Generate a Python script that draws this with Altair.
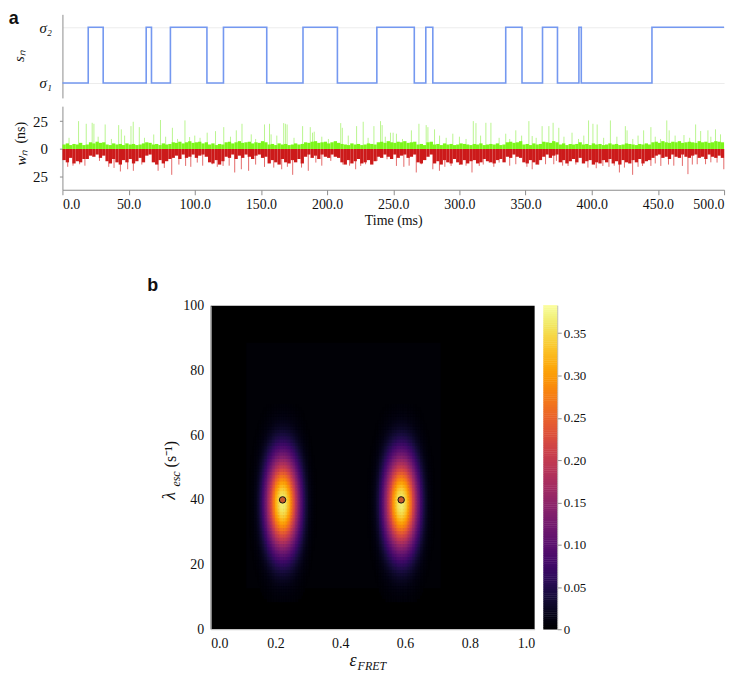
import altair as alt
import numpy as np
import pandas as pd

alt.data_transformers.disable_max_rows()

# ---------------- panel a: state trajectory ----------------
state_times = [0, 19.5, 30.8, 63.3, 67.3, 81.6, 109.2, 121.7, 154.4, 181.8, 207.8,
               237.6, 265.9, 274.6, 279.9, 335.0, 347.3, 362.8, 374.1, 390.3, 392.1,
               445.5, 500]
state_values = [1, 2, 1, 2, 1, 2, 1, 2, 1, 2, 1, 2, 1, 2, 1, 2, 1, 2, 1, 2, 1, 2, 2]

# ---------------- panel a: waiting-time trace (2.5 ms bins) ----------------
bin_ms = 2.5
green_band_segments = [
    [4, 5, 3.5, 4.5, 4, 5.5, 3.5, 4],
    [6, 5, 6.5, 5.5, 6],
    [4, 3.5, 5, 4, 4.5, 3.5, 5, 4, 4.5, 3.5, 4, 5],
    [6, 5.5],
    [4, 4.5, 3.5, 5, 4, 4.5],
    [6, 5.5, 6.5, 5, 6, 7, 5.5, 6, 6.5, 5, 6],
    [4, 5, 3.5, 4.5, 4],
    [6, 6.5, 5, 6, 7, 5.5, 6, 6.5, 5, 6, 5.5, 7, 6],
    [4, 4.5, 3.5, 5, 4, 4.5, 3.5, 4, 5, 4, 4.5],
    [6, 5.5, 6.5, 7, 5.5, 6, 6.5, 5, 6, 7, 5.5],
    [4.5, 4, 3.5, 5, 4, 4.5, 3.5, 4, 5, 4.5, 4],
    [6, 6.5, 5.5, 7, 6, 5.5, 6.5, 6, 7, 5.5, 6, 6.5],
    [4, 4.5, 3.5],
    [6, 6.5],
    [4, 4.5, 3.5, 5, 4, 4.5, 3.5, 4, 5, 4.5, 4, 3.5, 4.5, 4, 5, 3.5, 4, 4.5, 4, 5, 3.5, 4],
    [6, 6.5, 5.5, 6, 7],
    [4, 4.5, 3.5, 5, 4, 4.5],
    [6.5, 6, 5.5, 7, 6],
    [4, 5, 3.5, 4.5, 4, 4.5],
    [6],
    [4, 4.5, 3.5, 5, 4, 4.5, 3.5, 4, 5, 4, 4.5, 3.5, 4, 5, 4.5, 4, 3.5, 4.5, 4, 5, 4],
    [6, 6.5, 5.5, 7, 6, 5.5, 6.5, 6, 7, 5.5, 6, 6.5, 6, 5.5, 7, 6, 6.5, 5.5, 6, 7, 6.5, 6],
]
red_band_segments = [
    [10, 12, 8, 13, 11, 12, 9, 9],
    [6, 7, 5, 8, 6],
    [11, 13, 9, 12, 14, 10, 12, 9, 13, 11, 8, 12],
    [6, 5],
    [12, 14, 10, 13, 11, 9],
    [8, 6, 9, 5, 8, 7, 5, 8, 6, 5, 7],
    [12, 13, 10, 14, 11],
    [7, 8, 5, 9, 6, 8, 5, 7, 9, 6, 5, 8, 7],
    [13, 10, 12, 14, 9, 12, 13, 10, 12, 9, 13],
    [7, 5, 8, 6, 9, 5, 7, 8, 5, 7, 8],
    [12, 14, 10, 13, 11, 9, 13, 12, 10, 14, 11],
    [7, 8, 5, 7, 9, 5, 8, 6, 5, 8, 7, 5],
    [12, 13, 10],
    [7, 5],
    [13, 11, 14, 10, 12, 13, 9, 12, 14, 10, 13, 11, 10, 13, 12, 9, 11, 12, 13, 10, 9, 12],
    [7, 8, 5, 7, 8],
    [12, 13, 10, 12, 14, 10],
    [7, 5, 8, 6, 5],
    [12, 10, 13, 11, 9, 12],
    [8],
    [13, 11, 10, 14, 12, 13, 10, 12, 9, 13, 11, 14, 10, 12, 13, 10, 12, 9, 13, 11, 10],
    [8, 6, 5, 8, 7, 9, 5, 7, 8, 5, 7, 8, 6, 5, 8, 7, 9, 5, 7, 8, 6, 8],
]
green_band = [v for seg in green_band_segments for v in seg]
red_band = [v for seg in red_band_segments for v in seg]

green_spike_times = [12.2, 18.0, 22.5, 23.8, 32.3, 42.5, 44.5, 51.8, 53.5, 58.1, 74.1, 83.1,
                     92.6, 96.1, 109.4, 115.7, 121.9, 131.4, 135.7, 142.7, 152.7, 156.5,
                     157.7, 167.2, 168.5, 169.8, 181.5, 187.3, 189.0, 190.3, 210.3, 211.5,
                     222.3, 227.3, 235.4, 240.4, 241.6, 247.9, 249.9, 252.4, 263.7, 269.4,
                     274.9, 276.2, 281.2, 295.0, 310.5, 312.5, 320.0, 323.8, 335.0, 342.6,
                     352.5, 355.0, 362.5, 367.6, 370.8, 375.1, 385.1, 397.6, 400.9, 404.1,
                     414.1, 425.4, 426.7, 439.2, 444.7, 456.7, 458.5, 469.7, 478.5, 482.3,
                     487.8, 493.5, 497.3,
                     5, 27, 37, 47, 62, 69, 78, 87, 100, 104, 127, 146, 162, 175, 196, 201,
                     216, 231, 244, 257, 285, 290, 300, 305, 316, 330, 338, 347, 358, 379,
                     390, 394, 409, 419, 431, 435, 448, 452, 463, 474, 490]
green_spike_heights = [25, 22.6, 23.5, 22.6, 22, 21.4, 17.6, 20.5, 24.4, 19.6, 26, 19,
                       25.6, 10.7, 14.6, 16, 19.6, 16.7, 22.6, 13.1, 22.0, 22.6,
                       13.1, 23.2, 22.6, 22.0, 20.5, 19.6, 14.6, 15.5, 23.2, 19.0,
                       20.5, 24.4, 20.5, 25.0, 21.4, 14.6, 14.6, 13.7, 16.7, 22.6,
                       21.4, 19.6, 17.6, 13.7, 25.0, 23.2, 23.5, 23.5, 13.7, 16.7,
                       25.0, 11.6, 20.5, 20.5, 23.5, 19.0, 14.6, 25.6, 22.6, 22.0,
                       25.6, 20.5, 16.7, 16.7, 19.6, 25.6, 16.7, 12.5, 22.0, 16.1,
                       16.7, 17.6, 13.1,
                       10, 11, 9, 12, 10, 13, 11, 9, 12, 10, 11, 9, 12, 10, 11, 9,
                       12, 10, 11, 9, 12, 10, 11, 9, 12, 10, 9, 12, 10, 11,
                       9, 12, 10, 11, 9, 12, 11, 9, 12, 10, 11]
red_spike_times = [13.0, 28.0, 43.8, 49.3, 53.6, 72.3, 82.6, 93.1, 101.9, 113.2, 121.4,
                   130.2, 135.2, 140.7, 152.7, 159.7, 165.7, 174.0, 180.7, 185.8, 191.5,
                   202.8, 221.6, 225.4, 229.1, 232.9, 237.8, 245.3, 252.4, 267.4, 271.2,
                   279.9, 284.9, 293.7, 300.0, 309.5, 315.0, 322.5, 330.0, 342.6, 355.0,
                   365.1, 371.3, 373.3, 382.1, 397.1, 403.4, 408.4, 420.9, 424.7, 430.9,
                   438.4, 444.7, 452.2, 468.5, 472.7, 479.7, 486.0, 494.7, 499.8,
                   4, 8, 17, 35, 39, 60, 77, 88, 97, 106, 117, 126, 146, 170, 196, 212,
                   217, 258, 262, 289, 305, 318, 326, 338, 351, 360, 378, 388, 413, 417,
                   435, 448, 458, 462, 476, 490]
red_spike_heights = [13.7, 10.7, 20.2, 18.2, 19.6, 19.6, 23.2, 15.2, 12.2, 13.7, 15.2,
                     21.1, 18.2, 19.6, 16.1, 16.7, 18.2, 23.2, 16.7, 19.6, 12.2,
                     10.7, 18.2, 15.2, 13.7, 12.2, 10.7, 9.2, 15.2, 21.1, 13.7,
                     18.2, 19.6, 15.2, 14.3, 21.1, 15.2, 12.2, 12.2, 13.7, 18.2,
                     13.7, 13.7, 10.7, 15.2, 16.7, 17.3, 15.2, 21.1, 16.7, 23.2,
                     15.2, 15.2, 15.2, 15.2, 22.6, 13.7, 13.7, 12.2, 18.2,
                     16, 15, 15, 16, 17, 14, 17, 14, 16, 15, 16, 15, 14, 16, 15, 14,
                     15, 16, 15, 16, 15, 14, 16, 15, 16, 14, 15, 14, 16, 15,
                     16, 13, 14, 15, 14, 12]
time_ticks = [0, 50, 100, 150, 200, 250, 300, 350, 400, 450, 500]

# ---------------- panel b: posterior heat map ----------------
eff_ticks = [0.0, 0.2, 0.4, 0.6, 0.8, 1.0]
rate_ticks = [0, 20, 40, 60, 80, 100]
blob_eff = [0.222, 0.588]
blob_rate = [39, 39]
blob_peak = 0.365
prof_eff_offsets = [0.0, 0.005, 0.01, 0.015, 0.02, 0.025, 0.03, 0.035, 0.04, 0.045, 0.05,
                    0.055, 0.06, 0.065, 0.07, 0.075, 0.08, 0.085, 0.09, 0.095, 0.1, 0.105, 0.11]
prof_eff = [1.0, 0.99, 0.96, 0.91, 0.85, 0.77, 0.69, 0.60, 0.52, 0.43, 0.35,
            0.28, 0.21, 0.16, 0.11, 0.08, 0.05, 0.035, 0.02, 0.012, 0.007, 0.003, 0.001]
prof_rate_offsets = list(range(0, 31))
prof_rate = [1.0, 0.995, 0.98, 0.956, 0.923, 0.882, 0.835, 0.783, 0.726, 0.667, 0.607,
             0.546, 0.487, 0.430, 0.375, 0.325, 0.278, 0.236, 0.198, 0.164, 0.135,
             0.110, 0.089, 0.071, 0.056, 0.044, 0.034, 0.026, 0.020, 0.015, 0.011]
grid_eff = [0.11, 0.71]
grid_rate = [12.7, 88.6]
mode_eff = [0.222, 0.588]
mode_rate = [40, 40]
cbar_max = 0.383
cbar_ticks = [0, 0.05, 0.10, 0.15, 0.20, 0.25, 0.30, 0.35]

# ---------------- tables ----------------
df_state = pd.DataFrame({"t": state_times, "s": state_values})
n_bins = len(green_band)
t0 = [i * bin_ms for i in range(n_bins)]
df_band = pd.DataFrame({"t0": t0, "t1": [t + bin_ms for t in t0], "zero": 0.0,
                        "g": green_band, "r": [-v for v in red_band]})
df_gsp = pd.DataFrame({"t": green_spike_times, "zero": 0.0, "h": green_spike_heights})
df_rsp = pd.DataFrame({"t": red_spike_times, "zero": 0.0, "h": [-v for v in red_spike_heights]})

cells = []
for cx, cy in zip(blob_eff, blob_rate):
    for dx, px in zip(prof_eff_offsets, prof_eff):
        for sx in ([1] if dx == 0 else [1, -1]):
            for dy, py in zip(prof_rate_offsets, prof_rate):
                for sy in ([1] if dy == 0 else [1, -1]):
                    v = blob_peak * px * py
                    if v < 0.0015:
                        continue
                    x = cx + sx * dx
                    y = cy + sy * dy
                    cells.append({"x0": x - 0.0034, "x1": x + 0.0034,
                                  "y0": y - 0.65, "y1": y + 0.65, "v": v})
df_cells = pd.DataFrame(cells).sort_values("v")
df_bg = pd.DataFrame({"x0": [0.0], "x1": [1.0], "y0": [0.0], "y1": [100.0]})
df_region = pd.DataFrame({"x0": [grid_eff[0]], "x1": [grid_eff[1]],
                          "y0": [grid_rate[0]], "y1": [grid_rate[1]]})
df_modes = pd.DataFrame({"x": mode_eff, "y": mode_rate})
cb_step = 0.0025
cb_levels = np.arange(0, cbar_max, cb_step)
df_cbar = pd.DataFrame({"x0": 0.0, "x1": 1.0, "y0": cb_levels,
                        "y1": np.minimum(cb_levels + cb_step * 1.2, cbar_max), "v": cb_levels})

# ---------------- geometry ----------------
W, H = 665, 618
SERIF = "Liberation Serif"
AX = "#8c8c8c"

sx_time = alt.Scale(domain=[0, 500], range=[0, W])
sy_state = alt.Scale(domain=[0.732, 2.232], range=[84, 0])
sy_trace = alt.Scale(domain=[-36.6, 38.4], range=[176.3, 92.3])
sx_eff = alt.Scale(domain=[0, 1], range=[149, 474.6])
sy_rate = alt.Scale(domain=[0, 100], range=[618, 293])
sx_cb = alt.Scale(domain=[0, 1], range=[483.3, 497.3])
sy_cb = alt.Scale(domain=[0, cbar_max], range=[618.3, 292.3])
color_scale = alt.Scale(scheme="inferno", domain=[0, cbar_max])

state_line = alt.Chart(df_state).mark_line(
    interpolate="step-after", color="#7498f0", strokeWidth=1.6
).encode(
    x=alt.X("t:Q", scale=sx_time, axis=None),
    y=alt.Y("s:Q", scale=sy_state,
            axis=alt.Axis(orient="left", values=[1, 2],
                          labelExpr="datum.value == 2 ? 'σ₂' : 'σ₁'",
                          grid=True, gridColor="#ececec", ticks=False,
                          domainColor=AX, labelPadding=11, labelFontSize=15,
                          labelFontStyle="italic", title=None)),
)

g_spikes = alt.Chart(df_gsp).mark_rule(color="#b9f58e", strokeWidth=1).encode(
    x=alt.X("t:Q", scale=sx_time, axis=None),
    y=alt.Y("zero:Q", scale=sy_trace, axis=None), y2="h:Q")
r_spikes = alt.Chart(df_rsp).mark_rule(color="#e46a6a", strokeWidth=1).encode(
    x=alt.X("t:Q", scale=sx_time, axis=None),
    y=alt.Y("zero:Q", scale=sy_trace, axis=None), y2="h:Q")
g_band = alt.Chart(df_band).mark_rect(color="#7cf51a").encode(
    x=alt.X("t0:Q", scale=sx_time,
            axis=alt.Axis(orient="bottom", offset=176.3 - H, values=time_ticks,
                          format=".1f", tickSize=5, tickColor=AX, domainColor=AX,
                          labelPadding=3, labelFontSize=14, title="Time (ms)",
                          titlePadding=2, titleFontSize=14, titleFontWeight="normal",
                          grid=False)),
    x2="t1:Q",
    y=alt.Y("zero:Q", scale=sy_trace,
            axis=alt.Axis(orient="left", values=[-25, 0, 25], labelExpr="abs(datum.value)",
                          tickSize=3, tickColor=AX, domainColor=AX, labelPadding=12,
                          labelFontSize=15, title=None, grid=False)),
    y2="g:Q")
r_band = alt.Chart(df_band).mark_rect(color="#cc1a1a").encode(
    x=alt.X("t0:Q", scale=sx_time, axis=None), x2="t1:Q",
    y=alt.Y("zero:Q", scale=sy_trace, axis=None), y2="r:Q")

heat_bg = alt.Chart(df_bg).mark_rect(color="#000000").encode(
    x=alt.X("x0:Q", scale=sx_eff,
            axis=alt.Axis(orient="bottom", offset=0, values=eff_ticks, format=".1f",
                          ticks=False, domainColor="#c4c4c4", labelPadding=7,
                          labelFontSize=14, title=None, grid=False, zindex=1)),
    x2="x1:Q",
    y=alt.Y("y0:Q", scale=sy_rate,
            axis=alt.Axis(orient="left", offset=-149, values=rate_ticks, ticks=False,
                          domainColor="#c4c4c4", labelPadding=7, labelFontSize=14,
                          title=None, grid=False, zindex=1)),
    y2="y1:Q")
heat_region = alt.Chart(df_region).mark_rect(color="#010106").encode(
    x=alt.X("x0:Q", scale=sx_eff, axis=None), x2="x1:Q",
    y=alt.Y("y0:Q", scale=sy_rate, axis=None), y2="y1:Q")
heat_cells = alt.Chart(df_cells).mark_rect().encode(
    x=alt.X("x0:Q", scale=sx_eff, axis=None), x2="x1:Q",
    y=alt.Y("y0:Q", scale=sy_rate, axis=None), y2="y1:Q",
    color=alt.Color("v:Q", scale=color_scale, legend=None))
heat_modes = alt.Chart(df_modes).mark_circle(
    size=42, color="#c65a2c", stroke="#111111", strokeWidth=1, opacity=1
).encode(x=alt.X("x:Q", scale=sx_eff, axis=None),
         y=alt.Y("y:Q", scale=sy_rate, axis=None))

cbar = alt.Chart(df_cbar).mark_rect().encode(
    x=alt.X("x0:Q", scale=sx_cb, axis=None), x2="x1:Q",
    y=alt.Y("y0:Q", scale=sy_cb,
            axis=alt.Axis(orient="right", offset=497.3 - W, values=cbar_ticks,
                          labelExpr="datum.value == 0 ? '0' : format(datum.value, '.2f')",
                          tickSize=4, tickColor=AX, domainColor="#b0b0b0", labelPadding=2,
                          labelFontSize=13, title=None, grid=False)),
    y2="y1:Q",
    color=alt.Color("v:Q", scale=color_scale, legend=None))

one = pd.DataFrame({"k": [0]})


def txt(text, x, y, size, angle=0, font=SERIF, style="normal", weight="normal",
        align="center", baseline="middle"):
    return alt.Chart(one).mark_text(
        text=text, fontSize=size, font=font, fontStyle=style, fontWeight=weight,
        angle=angle, align=align, baseline=baseline, color="#111111"
    ).encode(x=alt.value(x), y=alt.value(y))


texts = [
    txt("a", -54, 10, 18, font="Liberation Sans", weight="bold", align="left",
        baseline="alphabetic"),
    txt("b", 85.3, 278.3, 18, font="Liberation Sans", weight="bold", align="left",
        baseline="alphabetic"),
    txt("sₙ", -44, 42, 15, angle=270, style="italic"),
    txt("wₙ", -42, 144, 15, angle=270, style="italic"),
    txt("(ns)", -42, 119, 14, angle=270),
    txt("λ", 108, 484, 18, angle=270, style="italic"),
    txt("esc", 114, 467, 12, angle=270, style="italic"),
    txt("(s⁻¹)", 109, 442, 16, angle=270),
    txt("ε", 292, 650, 18, style="italic"),
    txt("FRET", 311, 655, 12, style="italic"),
]

chart = alt.layer(
    state_line, g_spikes, r_spikes, g_band, r_band,
    heat_bg, heat_region, heat_cells, heat_modes, cbar, *texts
).resolve_scale(
    x="independent", y="independent", color="independent"
).resolve_axis(
    x="independent", y="independent"
).properties(
    width=W, height=H,
    autosize=alt.AutoSizeParams(type="none"),
    padding={"left": 54.7, "top": 4.7, "right": 15, "bottom": 42},
).configure_view(stroke=None).configure_axis(
    labelFont=SERIF, titleFont=SERIF, labelColor="#111111", titleColor="#111111"
)

chart.save("out.html", embed_options={"renderer": "svg", "actions": False})
